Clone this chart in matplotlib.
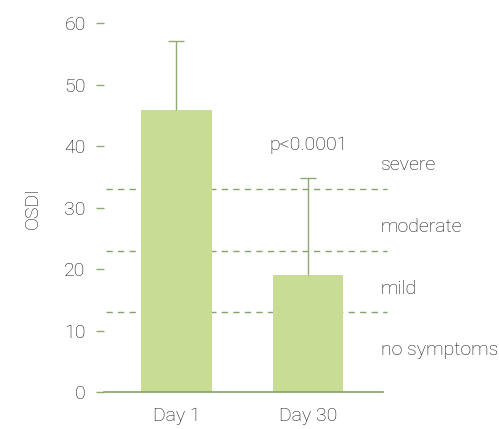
import matplotlib
matplotlib.use("Agg")
import matplotlib.pyplot as plt

categories = ["Day 1", "Day 30"]
means = [45.9, 19.1]
errors = [11.2, 15.7]
thresholds = [13, 23, 33]
zone_labels = ["no symptoms", "mild", "moderate", "severe"]
zone_label_y = [6.8, 16.7, 26.8, 36.9]
p_text = "p<0.0001"
yticks = [0, 10, 20, 30, 40, 50, 60]

plt.rcParams['font.family'] = ['Roboto', 'DejaVu Sans']
plt.rcParams['font.weight'] = 'light'

bar_color = "#c8dc93"
line_color = "#84a366"
text_color = "#151515"
fs = 14

fig = plt.figure(figsize=(4.99, 4.29), dpi=100)
ax = fig.add_axes([0.208, 0.086, 0.559, 0.860])

x = list(range(len(categories)))
ax.bar(x, means, width=0.535, color=bar_color, zorder=2)
tops = [m + e for m, e in zip(means, errors)]
ax.vlines(x, means, tops, color="#8fab74", linewidth=1.0, zorder=3)
ax.plot(x, tops, linestyle='none', marker='_', markersize=11, markeredgewidth=1.0,
        color="#8fab74", zorder=3)

for t in thresholds:
    ax.plot([-0.53, 1.6], [t, t], linestyle=(0, (4.5, 3.8)), color=line_color,
            linewidth=1.0, zorder=1, clip_on=False)

for lab, yy in zip(zone_labels, zone_label_y):
    ax.text(1.55, yy, lab, fontsize=fs, color=text_color, va='center', ha='left',
            fontweight='light')

ax.text(1.0, 40.2, p_text, fontsize=fs, color=text_color, ha='center', va='center',
        fontweight='light')

ax.set_xlim(-0.55, 1.565)
ax.set_ylim(0, 60)
ax.set_yticks(yticks)
ax.set_xticks(x)
ax.set_xticklabels(categories)
ax.set_ylabel("OSDI", fontsize=fs, color=text_color, labelpad=16, fontweight='light')

for s in ['top', 'right', 'left']:
    ax.spines[s].set_visible(False)
ax.spines['bottom'].set_color(line_color)
ax.spines['bottom'].set_linewidth(1.2)

ax.tick_params(axis='y', length=6, width=1.0, color="#8fab74", labelcolor=text_color,
               labelsize=fs, pad=7)
ax.tick_params(axis='x', length=0, labelcolor=text_color, labelsize=fs, pad=11)
for lbl in ax.get_yticklabels() + ax.get_xticklabels():
    lbl.set_fontweight('light')

fig.savefig("out.png", dpi=100)
